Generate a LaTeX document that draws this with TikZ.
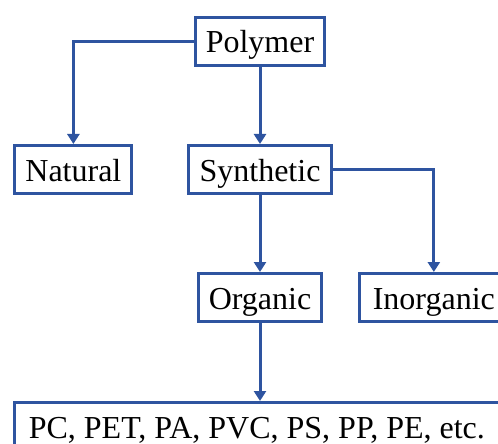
\documentclass[tikz,border=0pt]{standalone}
\usepackage{fontspec}
\setmainfont{Liberation Serif}
\usetikzlibrary{positioning,arrows.meta}
\definecolor{boxblue}{RGB}{46,84,160}
\tikzset{
  box/.style={draw=boxblue, line width=1.5pt, fill=white, inner xsep=5.3pt,
    minimum height=24pt, text height=12pt, text depth=0.5pt,
    font=\fontsize{16}{19}\selectfont},
  link/.style={draw=boxblue, line width=1.5pt, -{Triangle[length=5pt,width=6pt]}}
}
\begin{document}
\begin{tikzpicture}
  \useasboundingbox (0,0) rectangle (249pt,-222pt);
  \clip (0,0) rectangle (249pt,-222pt);

  \node[box] (P) at (130pt,-20.75pt) {Polymer};
  \node[box, below=38.5pt of P] (S) {Synthetic};
  \node[box, left=27pt of S] (N) {Natural};
  \node[box, below=38.5pt of S] (O) {Organic};
  \node[box, right=17.5pt of O, minimum width=74pt] (I) {Inorganic};
  \node[box, below=39pt of N.west |- O.south, anchor=north west,
        inner xsep=7pt, text width=240pt, align=flush left] (L) {PC, PET, PA, PVC, PS, PP, PE, etc.};

  \draw[link] (P) -| (N);
  \draw[link] (P) -- (S);
  \draw[link] (S) -- (O);
  \draw[link] (S) -| (I);
  \draw[link] (O) -- (O |- L.north);
\end{tikzpicture}
\end{document}
